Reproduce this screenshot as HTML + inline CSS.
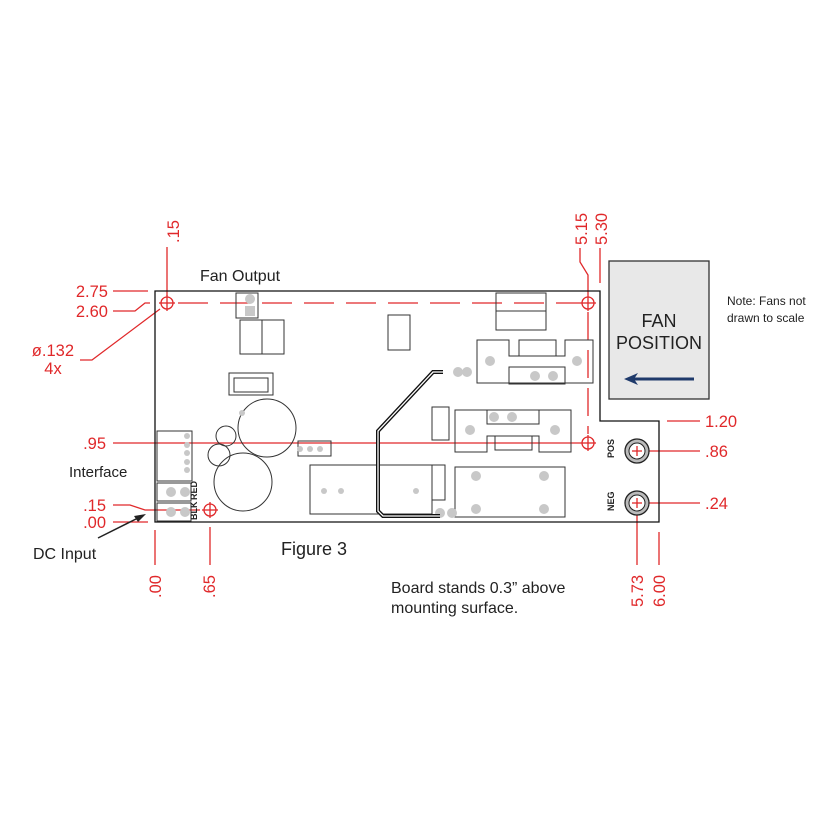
<!DOCTYPE html>
<html><head><meta charset="utf-8"><style>
html,body{margin:0;padding:0;background:#fff;}
svg{display:block;}
text{font-family:"Liberation Sans",Arial,sans-serif;}
.r{fill:#e0282a;font-size:16.5px;}
.k{fill:#222;}
</style></head><body>
<svg width="825" height="825" viewBox="0 0 825 825" xmlns="http://www.w3.org/2000/svg">
<g stroke="#e0282a" stroke-width="1.3" fill="none">
 <line x1="167" y1="247" x2="167" y2="296"/>
 <line x1="113" y1="291" x2="148" y2="291"/>
 <polyline points="113,311 135,311 145,303 150,303"/>
 <polyline points="80,360 92,360 160,309"/>
 <line x1="178" y1="303" x2="580" y2="303" stroke-dasharray="30,12"/>
 <line x1="113" y1="443" x2="580" y2="443"/>
 <polyline points="113,505 130,505 145,510 200,510"/>
 <line x1="113" y1="522" x2="148" y2="522"/>
 <line x1="155" y1="530" x2="155" y2="565"/>
 <line x1="210" y1="527" x2="210" y2="565"/>
 <line x1="637" y1="510" x2="637" y2="565"/>
 <line x1="659" y1="532" x2="659" y2="565"/>
 <polyline points="580,248 580,262 588,275 588,295"/>
 <line x1="588" y1="312" x2="588" y2="434" stroke-dasharray="28,10"/>
 <line x1="600" y1="248" x2="600" y2="283"/>
 <line x1="667" y1="421" x2="700" y2="421"/>
 <line x1="645" y1="451" x2="700" y2="451"/>
 <line x1="645" y1="503" x2="700" y2="503"/>
</g>
<text class="r" x="108" y="297" text-anchor="end">2.75</text>
<text class="r" x="108" y="317" text-anchor="end">2.60</text>
<text class="r" x="74" y="356" text-anchor="end">ø.132</text>
<text class="r" x="53" y="374" text-anchor="middle">4x</text>
<text class="r" x="106" y="449" text-anchor="end">.95</text>
<text class="r" x="106" y="511" text-anchor="end">.15</text>
<text class="r" x="106" y="528" text-anchor="end">.00</text>
<text class="r" x="705" y="427">1.20</text>
<text class="r" x="705" y="457">.86</text>
<text class="r" x="705" y="509">.24</text>
<text class="r" transform="translate(179,243) rotate(-90)">.15</text>
<text class="r" transform="translate(587,245) rotate(-90)">5.15</text>
<text class="r" transform="translate(607,245) rotate(-90)">5.30</text>
<text class="r" transform="translate(161,598) rotate(-90)">.00</text>
<text class="r" transform="translate(215,598) rotate(-90)">.65</text>
<text class="r" transform="translate(643,607) rotate(-90)">5.73</text>
<text class="r" transform="translate(665,607) rotate(-90)">6.00</text>
<path d="M155,291 H600 V421 H659 V522 H155 Z" fill="none" stroke="#111" stroke-width="1.3"/>
<rect x="609" y="261" width="100" height="138" fill="#e8e8e8" stroke="#333" stroke-width="1.3"/>
<text x="659" y="327" text-anchor="middle" font-size="18" fill="#222">FAN</text>
<text x="659" y="349" text-anchor="middle" font-size="18" fill="#222">POSITION</text>
<line x1="694" y1="379" x2="632" y2="379" stroke="#1f3a6b" stroke-width="3"/>
<path d="M624,379 L638,373 L634,379 L638,385 Z" fill="#1f3a6b"/>
<text x="727" y="305" font-size="12" fill="#222">Note: Fans not</text>
<text x="727" y="322" font-size="12" fill="#222">drawn to scale</text>
<g stroke="#e0282a" stroke-width="1.3" fill="none">
 <circle cx="167" cy="303" r="6"/><line x1="159" y1="303" x2="175" y2="303"/><line x1="167" y1="295" x2="167" y2="311"/>
 <circle cx="588" cy="303" r="6"/><line x1="580" y1="303" x2="596" y2="303"/><line x1="588" y1="295" x2="588" y2="311"/>
 <circle cx="588" cy="443" r="6"/><line x1="580" y1="443" x2="596" y2="443"/><line x1="588" y1="435" x2="588" y2="451"/>
 <circle cx="210" cy="510" r="6"/><line x1="202" y1="510" x2="218" y2="510"/><line x1="210" y1="502" x2="210" y2="518"/>
</g>
<g>
 <circle cx="637" cy="451" r="12" fill="#bbb" stroke="#222" stroke-width="1.3"/>
 <circle cx="637" cy="451" r="8" fill="#fff" stroke="#222"/>
 <circle cx="637" cy="503" r="12" fill="#bbb" stroke="#222" stroke-width="1.3"/>
 <circle cx="637" cy="503" r="8" fill="#fff" stroke="#222"/>
 <g stroke="#e0282a" stroke-width="1.3"><line x1="632" y1="451" x2="642" y2="451"/><line x1="637" y1="446" x2="637" y2="456"/><line x1="632" y1="503" x2="642" y2="503"/><line x1="637" y1="498" x2="637" y2="508"/></g>
 <text transform="translate(614,458) rotate(-90)" font-size="9" font-weight="bold" fill="#222">POS</text>
 <text transform="translate(614,511) rotate(-90)" font-size="9" font-weight="bold" fill="#222">NEG</text>
</g>
<g stroke="#333" stroke-width="1" fill="none">
 <rect x="236" y="293" width="22" height="25"/><rect x="240" y="320" width="22" height="34"/><rect x="262" y="320" width="22" height="34"/>
 <rect x="229" y="373" width="44" height="22"/><rect x="234" y="378" width="34" height="14"/>
 <circle cx="267" cy="428" r="29"/><circle cx="243" cy="482" r="29"/>
 <circle cx="226" cy="436" r="10"/><circle cx="219" cy="455" r="11"/>
 <rect x="157" y="431" width="35" height="50"/><rect x="157" y="483" width="34" height="18"/><rect x="157" y="503" width="34" height="18"/>
 <rect x="298" y="441" width="33" height="15"/>
 <rect x="310" y="465" width="122" height="49"/>
 <rect x="432" y="465" width="13" height="35"/>
 <rect x="388" y="315" width="22" height="35"/>
 <rect x="496" y="293" width="50" height="18"/><rect x="496" y="311" width="50" height="19"/>
 <path d="M477,340 H509 V356 H565 V340 H593 V383 H477 Z"/>
 <rect x="519" y="340" width="37" height="16"/><rect x="509" y="367" width="56" height="17"/>
 <path d="M455,410 H487 V424 H539 V410 H571 V452 H539 V436 H487 V452 H455 Z"/>
 <rect x="487" y="410" width="52" height="14"/><rect x="495" y="436" width="37" height="14"/>
 <rect x="455" y="467" width="110" height="50"/>
 <rect x="432" y="407" width="17" height="33"/>
</g>
<g fill="#c8c8c8">
 <circle cx="250" cy="299" r="5"/><rect x="245" y="306" width="10" height="10"/>
 <circle cx="185" cy="492" r="5"/><circle cx="171" cy="492" r="5"/><circle cx="171" cy="512" r="5"/><circle cx="185" cy="512" r="5"/>
 <circle cx="242" cy="413" r="3"/><circle cx="300" cy="449" r="3"/><circle cx="310" cy="449" r="3"/><circle cx="320" cy="449" r="3"/>
 <circle cx="324" cy="491" r="3"/><circle cx="341" cy="491" r="3"/><circle cx="416" cy="491" r="3"/>
 <circle cx="458" cy="372" r="5"/><circle cx="467" cy="372" r="5"/>
 <circle cx="440" cy="513" r="5"/><circle cx="452" cy="513" r="5"/>
 <circle cx="490" cy="361" r="5"/><circle cx="577" cy="361" r="5"/><circle cx="535" cy="376" r="5"/><circle cx="553" cy="376" r="5"/>
 <circle cx="470" cy="430" r="5"/><circle cx="555" cy="430" r="5"/><circle cx="494" cy="417" r="5"/><circle cx="512" cy="417" r="5"/>
 <circle cx="476" cy="476" r="5"/><circle cx="544" cy="476" r="5"/><circle cx="476" cy="509" r="5"/><circle cx="544" cy="509" r="5"/>
 <circle cx="187" cy="436" r="3"/><circle cx="187" cy="445" r="3"/><circle cx="187" cy="453" r="3"/><circle cx="187" cy="462" r="3"/><circle cx="187" cy="470" r="3"/>
</g>
<path d="M443,372 L433,372 L378,431 L378,511 L383,516 L440,516" fill="none" stroke="#111" stroke-width="4"/>
<path d="M443,372 L433,372 L378,431 L378,511 L383,516 L440,516" fill="none" stroke="#fff" stroke-width="1.3"/>
<text transform="translate(197,520) rotate(-90)" font-size="9" font-weight="bold" fill="#222">BLK</text>
<text transform="translate(197,500) rotate(-90)" font-size="9" font-weight="bold" fill="#222">RED</text>
<text x="200" y="281" font-size="16" class="k">Fan Output</text>
<text x="69" y="477" font-size="15" class="k">Interface</text>
<text x="33" y="559" font-size="16" class="k">DC Input</text>
<text x="281" y="555" font-size="18" class="k">Figure 3</text>
<text x="391" y="593" font-size="16" class="k">Board stands 0.3” above</text>
<text x="391" y="613" font-size="16" class="k">mounting surface.</text>
<line x1="98" y1="538" x2="138" y2="518" stroke="#222" stroke-width="1.5"/>
<path d="M146,514 L134,516 L138,522 Z" fill="#222"/>
</svg>
</body></html>
